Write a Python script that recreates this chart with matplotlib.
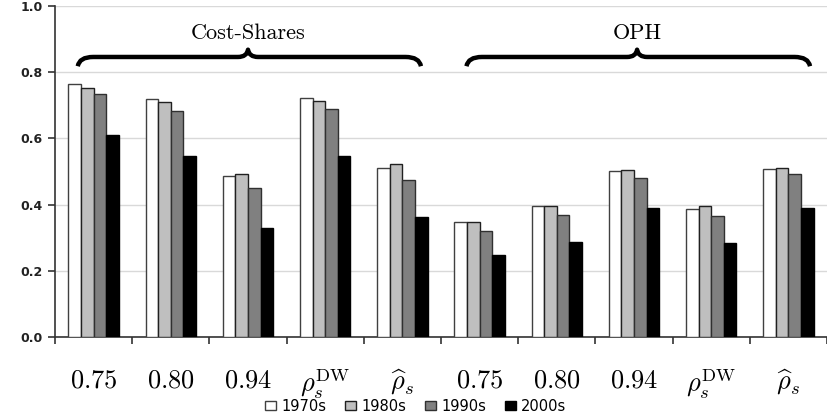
import matplotlib
matplotlib.use("Agg")
import matplotlib.pyplot as plt
from matplotlib.path import Path
from matplotlib.patches import PathPatch
import numpy as np

categories = [r'$0.75$', r'$0.80$', r'$0.94$', r'$\rho_s^{\mathrm{DW}}$', r'$\widehat{\rho}_s$',
              r'$0.75$', r'$0.80$', r'$0.94$', r'$\rho_s^{\mathrm{DW}}$', r'$\widehat{\rho}_s$']
series_names = ['1970s', '1980s', '1990s', '2000s']
v1970 = [0.763, 0.718, 0.486, 0.721, 0.511, 0.346, 0.396, 0.502, 0.386, 0.507]
v1980 = [0.752, 0.709, 0.491, 0.712, 0.522, 0.346, 0.396, 0.504, 0.395, 0.510]
v1990 = [0.733, 0.682, 0.449, 0.689, 0.474, 0.321, 0.370, 0.481, 0.366, 0.492]
v2000 = [0.610, 0.547, 0.328, 0.547, 0.364, 0.248, 0.287, 0.389, 0.283, 0.389]
group_labels = ['Cost-Shares', 'OPH']

plt.rcParams['mathtext.fontset'] = 'cm'

W, H = 827, 419
fig = plt.figure(figsize=(W/100, H/100), dpi=100)
ax = fig.add_axes([55/W, 82/H, (W-55)/W, 331/H])

colors = ['#ffffff', '#bfbfbf', '#808080', '#000000']
edges = ['#404040', '#202020', '#303030', '#000000']
data = [v1970, v1980, v1990, v2000]
x = np.arange(len(categories))
bw = 0.163
for i, (vals, c, ec, name) in enumerate(zip(data, colors, edges, series_names)):
    ax.bar(x + (i - 1.5) * bw, vals, width=bw, color=c, edgecolor=ec, linewidth=1.0,
           label=name, zorder=3)

ax.set_ylim(0, 1.0)
ax.set_xlim(-0.5, (827 - 94) / 78)
ax.set_yticks([0, 0.2, 0.4, 0.6, 0.8, 1.0])
ax.set_yticklabels(['0.0', '0.2', '0.4', '0.6', '0.8', '1.0'], fontsize=9, fontweight='bold',
                   color='#222222')
ax.yaxis.grid(True, color='#d9d9d9', linewidth=1.0, zorder=0)
ax.set_axisbelow(True)
ax.set_xticks(x)
ax.set_xticklabels(categories, fontsize=19)
ax.tick_params(axis='x', which='major', length=0, pad=22)
ax.set_xticks(np.arange(-0.5, 10, 1.0), minor=True)
ax.tick_params(axis='x', which='minor', length=5, width=1.2, color='#333333', direction='out')
ax.tick_params(axis='y', length=5, width=1.2, color='#333333', direction='out', pad=4)
for s in ['top', 'right']:
    ax.spines[s].set_visible(False)
for s in ['left', 'bottom']:
    ax.spines[s].set_color('#333333')
    ax.spines[s].set_linewidth(1.2)


def brace(ax, x0, x1, xt, yb, ylow, ytip, wend=0.2, wtip=0.13):
    verts = [
        (x0, ylow), (x0 + 0.02, yb), (x0 + wend, yb),
        (xt - wtip, yb),
        (xt - 0.015, yb), (xt, ytip),
        (xt + 0.015, yb), (xt + wtip, yb),
        (x1 - wend, yb),
        (x1 - 0.02, yb), (x1, ylow),
    ]
    codes = [Path.MOVETO, Path.CURVE3, Path.CURVE3,
             Path.LINETO,
             Path.CURVE3, Path.CURVE3,
             Path.CURVE3, Path.CURVE3,
             Path.LINETO,
             Path.CURVE3, Path.CURVE3]
    p = PathPatch(Path(verts, codes), facecolor='none', edgecolor='black', linewidth=3.2,
                  capstyle='butt', joinstyle='round', zorder=5, clip_on=False)
    ax.add_patch(p)


brace(ax, -0.205, 4.24, 2.0, 0.846, 0.818, 0.868)
brace(ax, 4.83, 9.28, 7.04, 0.846, 0.818, 0.868)
ax.text(2.0, 0.918, group_labels[0], ha='center', va='center', fontsize=16, family='cmr10')
ax.text(7.04, 0.918, group_labels[1], ha='center', va='center', fontsize=16, family='cmr10')

fig.legend(loc='center', bbox_to_anchor=(416/W, 1 - 406/H), ncol=4, frameon=False,
           fontsize=10.5, handlelength=0.75, handleheight=0.6, handletextpad=0.35,
           columnspacing=1.3, borderpad=0)

fig.savefig('out.png', dpi=100)
